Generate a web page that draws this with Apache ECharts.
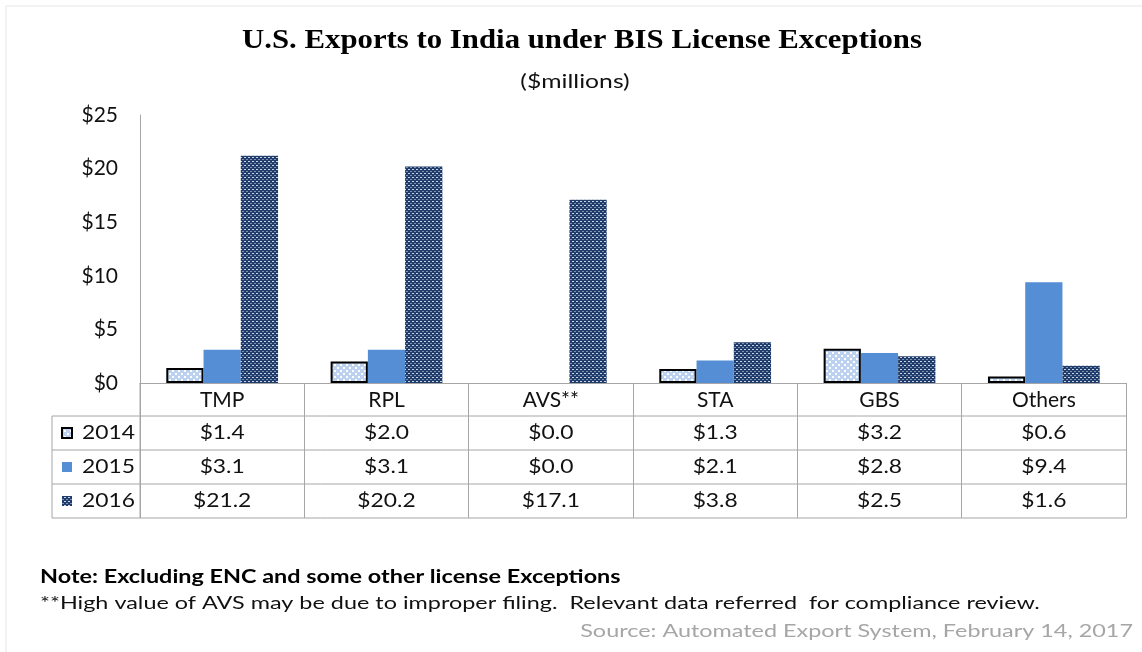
<!DOCTYPE html>
<html>
<head>
<meta charset="utf-8">
<script src="https://cdn.jsdelivr.net/npm/echarts@6/dist/echarts.min.js"></script>
<style>
  html, body { margin: 0; padding: 0; background: #fff; }
  #main { width: 1142px; height: 652px; }
</style>
</head>
<body>
<div id="main"></div>
<script>
// data
var categories = ['TMP', 'RPL', 'AVS**', 'STA', 'GBS', 'Others'];
var years = ['2014', '2015', '2016'];
var exports2014 = [1.4, 2.0, 0.0, 1.3, 3.2, 0.6];
var exports2015 = [3.1, 3.1, 0.0, 2.1, 2.8, 9.4];
var exports2016 = [21.2, 20.2, 17.1, 3.8, 2.5, 1.6];
var yTicks = [0, 5, 10, 15, 20, 25];

var FONT = 'Lato';
var LINE = '#a6a6a6';
var WIDE = 1.2; // the original picture is stretched sideways

// small tile patterns, like the excel fills
function makeTile(w, h, draw) {
	var c = document.createElement('canvas');
	c.width = w;
	c.height = h;
	draw(c.getContext('2d'));
	return c;
}
var tile2014 = makeTile(6, 6, function (ctx) {
	ctx.fillStyle = '#bcd2f0';
	ctx.fillRect(0, 0, 6, 6);
	ctx.fillStyle = '#ffffff';
	ctx.fillRect(1, 1, 2, 2);
	ctx.fillRect(4, 4, 2, 2);
});
var tile2016 = makeTile(4, 4, function (ctx) {
	ctx.fillStyle = '#1f3c6a';
	ctx.fillRect(0, 0, 4, 4);
	ctx.fillStyle = '#c9d4e4';
	ctx.fillRect(0, 1, 2, 1);
	ctx.fillStyle = '#7d92b5';
	ctx.fillRect(2, 3, 2, 1);
});
var fill2014 = { image: tile2014, repeat: 'repeat' };
var fill2016 = { image: tile2016, repeat: 'repeat' };
var fill2015 = '#558ed5';

// zero bars get no outline
var bars2014 = exports2014.map(function (v) {
	return v === 0 ? { value: v, itemStyle: { borderWidth: 0 } } : v;
});

var myChart = echarts.init(document.getElementById('main'));

var option = {
	backgroundColor: '#fff',
	animation: false,
	grid: { left: 140, right: 16, top: 115, bottom: 269, containLabel: false },
	xAxis: {
		type: 'category',
		data: categories,
		axisLine: { show: true, lineStyle: { color: LINE, width: 1 } },
		axisTick: { show: true, length: 135, lineStyle: { color: LINE } },
		axisLabel: { margin: 7, fontFamily: FONT, fontSize: 21, color: '#111' }
	},
	yAxis: {
		type: 'value',
		min: yTicks[0],
		max: yTicks[yTicks.length - 1],
		interval: 5,
		splitLine: { show: false },
		axisLine: { show: true, lineStyle: { color: LINE } },
		axisTick: { show: false },
		axisLabel: {
			margin: 22,
			fontFamily: FONT,
			fontSize: 21,
			color: '#111',
			formatter: '${value}'
		}
	},
	series: [{
		name: '2014',
		type: 'bar',
		data: bars2014,
		barGap: '0%',
		barCategoryGap: '32%',
		itemStyle: { color: fill2014, borderColor: '#000', borderWidth: 2 }
	}, {
		name: '2015',
		type: 'bar',
		data: exports2015,
		itemStyle: { color: fill2015 }
	}, {
		name: '2016',
		type: 'bar',
		data: exports2016,
		itemStyle: { color: fill2016 }
	}]
};
myChart.setOption(option);

function txt(x, y, s, font, fill, align, sx) {
	return { type: 'text', x: x, y: y, scaleX: sx || WIDE,
		style: { text: s, font: font, fill: fill, align: align || 'left', verticalAlign: 'middle' } };
}

// titles, data table under the axis, footnotes
function buildTable() {
	var x0 = myChart.convertToPixel({ xAxisIndex: 0 }, 0);
	var step = myChart.convertToPixel({ xAxisIndex: 0 }, 1) - x0;
	var left = x0 - step / 2;
	var right = left + step * categories.length;
	var top = myChart.convertToPixel({ yAxisIndex: 0 }, 0);
	var headH = 33, rowH = 34, tableLeft = 52;
	var rows = [exports2014, exports2015, exports2016];
	var keys = [fill2014, fill2015, fill2016];
	var els = [];

	els.push(txt(582, 41, 'U.S. Exports to India under BIS License Exceptions',
		'bold 27px "Liberation Serif"', '#000', 'center', 1.14));
	els.push(txt(575, 82, '($millions)', '19px ' + FONT, '#111', 'center', 1.3));

	// y axis carried down through the table
	els.push({ type: 'line', shape: { x1: left, y1: top, x2: left, y2: top + headH + rowH * 3 },
		style: { stroke: LINE, lineWidth: 1 } });
	for (var r = 0; r <= 3; r++) {
		var y = top + headH + rowH * r;
		els.push({ type: 'line', shape: { x1: tableLeft, y1: y, x2: right, y2: y },
			style: { stroke: LINE, lineWidth: 1 } });
	}
	els.push({ type: 'line', shape: { x1: tableLeft, y1: top + headH, x2: tableLeft, y2: top + headH + rowH * 3 },
		style: { stroke: LINE, lineWidth: 1 } });

	for (var i = 0; i < rows.length; i++) {
		var cy = top + headH + rowH * i + rowH / 2;
		els.push({ type: 'rect', shape: { x: 62, y: cy - 5, width: 10, height: 10 },
			style: { fill: keys[i], stroke: i === 0 ? '#000' : null, lineWidth: i === 0 ? 2 : 0 } });
		els.push(txt(82, cy, years[i], '19px ' + FONT, '#111'));
		for (var j = 0; j < categories.length; j++) {
			var cx = myChart.convertToPixel({ xAxisIndex: 0 }, j);
			els.push(txt(cx, cy, '$' + rows[i][j].toFixed(1), '19px ' + FONT, '#111', 'center'));
		}
	}

	// outer frame and footnotes
	els.push({ type: 'rect', shape: { x: 6, y: 6, width: 1140, height: 650 },
		style: { fill: null, stroke: '#e6e6e6', lineWidth: 1 }, z: -1 });
	els.push(txt(40, 577, 'Note: Excluding ENC and some other license Exceptions',
		'bold 18px ' + FONT, '#000', 'left', 1.3));
	els.push(txt(40, 603, '**High value of AVS may be due to improper filing.  Relevant data referred  for compliance review.',
		'18px ' + FONT, '#111', 'left', 1.3));
	els.push(txt(1133, 631, 'Source: Automated Export System, February 14, 2017',
		'18px ' + FONT, '#a6a6a6', 'right', 1.3));

	myChart.setOption({ graphic: { elements: els } });
}
buildTable();
</script>
</body>
</html>
